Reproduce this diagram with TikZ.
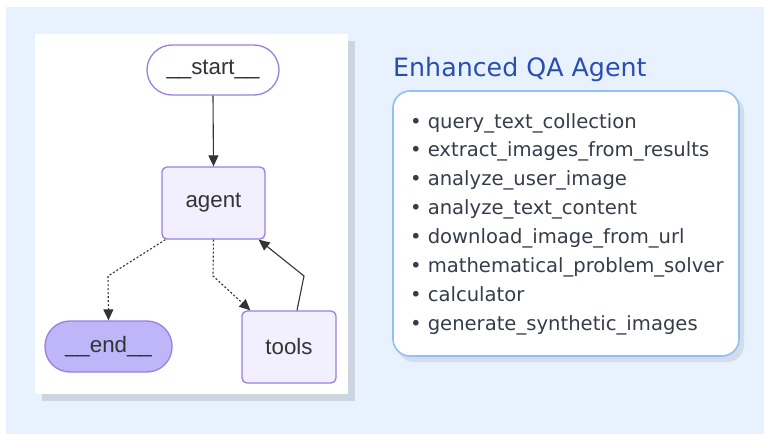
\documentclass[tikz,border=0pt]{standalone}
\usepackage{fontspec}
\setmainfont{Liberation Sans}
\newfontfamily\listfont{DejaVu Sans}
\usetikzlibrary{arrows.meta,calc}
\definecolor{pagebg}{HTML}{E8F2FE}
\definecolor{panelshadow}{HTML}{CDD6E0}
\definecolor{nodeborder}{HTML}{9C7EE0}
\definecolor{nodefill}{HTML}{F2F0FF}
\definecolor{endfill}{HTML}{BFB6FA}
\definecolor{edgecol}{HTML}{333333}
\definecolor{titleblue}{HTML}{2A4DB0}
\definecolor{boxborder}{HTML}{90C0F8}
\definecolor{boxshadow}{HTML}{D3DCE8}
\definecolor{itemtext}{HTML}{353D4A}
\tikzset{
  x=1pt, y=-1pt,
  graphnode/.style={draw=nodeborder, line width=1.3pt, text=edgecol,
    font=\fontsize{22.3}{25}\selectfont, inner sep=0pt},
  roundnode/.style={graphnode, rounded corners=25pt, fill=white,
    minimum width=132pt, minimum height=50pt},
  boxnode/.style={graphnode, rounded corners=5pt, fill=nodefill,
    minimum height=72pt},
  solidedge/.style={draw=edgecol, line width=1.1pt,
    -{Triangle[length=11pt,width=10pt]}},
  dottededge/.style={draw=edgecol, line width=1.1pt, dash pattern=on 2pt off 2pt,
    -{Triangle[length=11pt,width=10pt]}},
  itemline/.style={anchor=base west, font=\listfont\fontsize{19.6}{22}\selectfont,
    text=itemtext, inner sep=0pt},
}
\begin{document}
\begin{tikzpicture}
\useasboundingbox (0,0) rectangle (764,434);
\fill[white] (0,0) rectangle (764,434);
\fill[pagebg] (6,7) rectangle (764,434);

% graph panel with its drop shadow
\fill[panelshadow] (42,41) rectangle (355,401);
\fill[white] (35,34) rectangle (348,394);

% graph nodes
\node[roundnode] (start) at (213,70) {\_\_start\_\_};
\node[boxnode, minimum width=103pt] (agent) at (213.5,203) {agent};
\node[roundnode, fill=endfill, minimum width=127pt, minimum height=51pt]
  (end) at (108.5,346.5) {\_\_end\_\_};
\node[boxnode, minimum width=94pt] (tools) at (289,347) {tools};

% graph edges
\draw[solidedge] (start.south) -- (agent.north);
\coordinate (bendA) at (108,276);
\coordinate (bendB) at (213,276);
\coordinate (bendC) at (304,276);
\draw[dottededge] ($(agent.south west)+(4,0)$) -- (bendA) -- (end.north);
\draw[dottededge] (agent.south) -- (bendB) -- ($(tools.north west)+(9,0)$);
\draw[solidedge] ($(tools.north)+(8,0)$) -- (bendC) -- ($(agent.south east)+(-7,0)$);

% tool list panel
\node[anchor=base west, inner sep=0pt, text=titleblue,
  font=\listfont\fontsize{25.3}{28}\selectfont] (title) at (393,76)
  {Enhanced QA Agent};
\fill[boxshadow, rounded corners=17pt] (397,95) rectangle (744,362);
\draw[boxborder, fill=white, line width=1.6pt, rounded corners=17pt]
  (393,91) rectangle (739,356);

\foreach \txt [count=\i] in {query\_text\_collection, extract\_images\_from\_results,
  analyze\_user\_image, analyze\_text\_content, download\_image\_from\_url,
  mathematical\_problem\_solver, calculator, generate\_synthetic\_images}{
  \node[itemline] (item\i) at (410,{128+28.9*(\i-1)}) {\textbullet\hspace{6pt}\txt};
}
\end{tikzpicture}
\end{document}
